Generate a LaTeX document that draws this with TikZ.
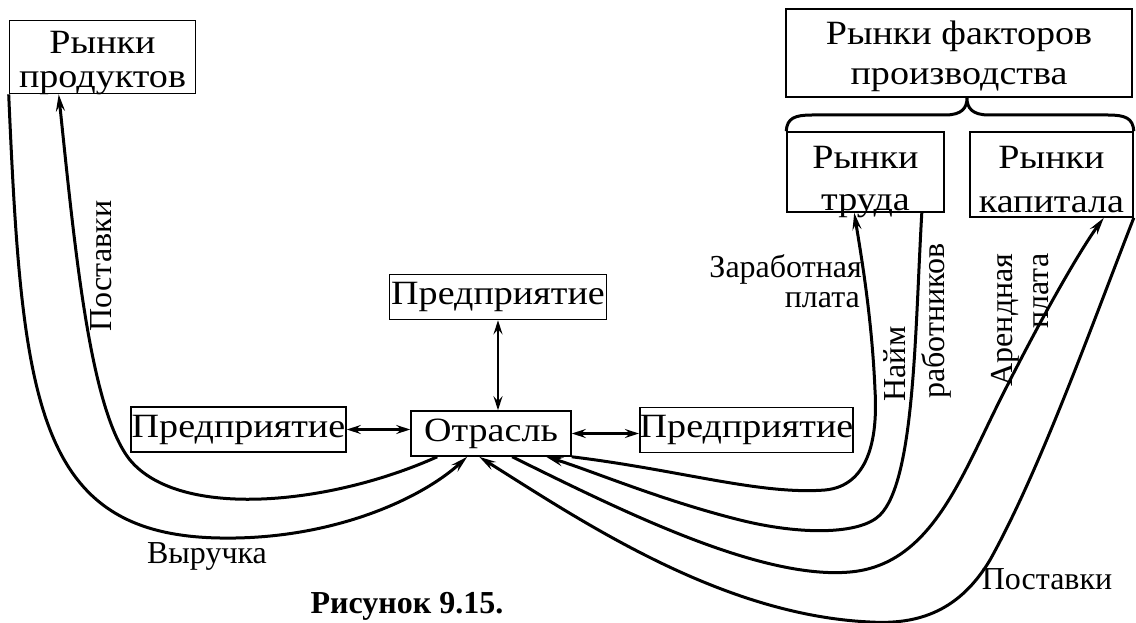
\documentclass[tikz,border=0pt]{standalone}
\usepackage{fontspec}
\setmainfont{Liberation Serif}
\newfontfamily\boxfont[FakeStretch=1.12]{Liberation Serif}
\usetikzlibrary{arrows.meta}
\begin{document}
\begin{tikzpicture}[x=1pt,y=-1pt,
 box/.style={draw,line width=1.6pt,inner sep=0pt,align=center,font=\boxfont\fontsize{34}{34}\selectfont},
 btext/.style={inner sep=0pt,anchor=base,font=\boxfont\fontsize{34}{34}\selectfont},
 lbl/.style={inner sep=0pt,font=\fontsize{32}{34}\selectfont},
 flow/.style={line width=3pt},
 tipend/.style={-{Stealth[length=17pt,width=9pt,inset=6pt]}},
 dbl/.style={line width=2.6pt,{Stealth[length=14pt,width=9pt,inset=5pt]}-{Stealth[length=14pt,width=9pt,inset=5pt]}}]
\useasboundingbox (0,0) rectangle (1136,623);

% boxes
\node[box,minimum width=186pt,minimum height=73pt] (rp) at (102.5,57) {};
\node[btext] (rpt1) at (102.5,54) {Рынки};
\node[btext] (rpt2) at (102.5,88) {продуктов};
\node[box,minimum width=346pt,minimum height=88pt] (rf) at (959,53) {};
\node[btext] (rft1) at (959,45) {Рынки факторов};
\node[btext] (rft2) at (959,85) {производства};
\node[box,minimum width=157pt,minimum height=80pt] (rt) at (865.5,172) {};
\node[btext] (rtt1) at (865.5,168) {Рынки};
\node[btext] (rtt2) at (865.5,211) {труда};
\node[box,minimum width=163pt,minimum height=85pt] (rk) at (1051.5,174.5) {};
\node[btext] (rkt1) at (1051.5,168) {Рынки};
\node[btext] (rkt2) at (1051.5,212) {капитала};
\node[box,minimum width=217pt,minimum height=45pt] (pt) at (498,297) {Предприятие};
\node[box,minimum width=215pt,minimum height=45pt] (pl) at (238.5,429.5) {Предприятие};
\node[box,minimum width=160pt,minimum height=45pt] (ot) at (491,433.5) {Отрасль};
\node[box,minimum width=213pt,minimum height=45pt] (pr) at (746.5,430) {Предприятие};

% brace
\coordinate (btip) at ([xshift=8pt]rf.south);
\draw[line width=3pt] (rt.north west) .. controls (787,118) and (795,115) .. (812,115) -- (945,115)
  .. controls (962,115) and (967,108) .. (btip) .. controls (967,108) and (972,115) .. (989,115)
  -- (1108,115) .. controls (1125,115) and (1133,118) .. (rk.north east);

% double arrows
\draw[dbl] (pl.east) -- (pl.east -| ot.west);
\draw[dbl] (ot.east) -- (ot.east -| pr.west);
\draw[dbl] (pt.south) -- (pt.south |- ot.north);

% anchor points
\coordinate (oA) at ([xshift=27pt]ot.south west);
\coordinate (oB) at ([xshift=57pt]ot.south west);
\coordinate (oC) at ([xshift=69pt]ot.south west);
\coordinate (oD) at ([xshift=102pt]ot.south west);
\coordinate (oE) at ([xshift=136pt]ot.south west);
\coordinate (rpA) at ([xshift=50pt]rp.south west);
\coordinate (rtA) at ([xshift=68pt]rt.south west);
\coordinate (rtB) at ([xshift=-23pt]rt.south east);
\coordinate (rkA) at ([xshift=-30pt]rk.south east);

% left flows
\draw[flow,tipend] (rp.south west) .. controls (22,400) and (35,535) .. (220,538)
  .. controls (330,540) and (420,500) .. (oB);
\draw[flow,tipend] (oA) .. controls (330,505) and (180,520) .. (130,460)
  .. controls (90,410) and (75,250) .. (rpA);

% right flows
\draw[flow,tipend] (ot.south east) .. controls (680,470) and (760,495) .. (825,490)
  .. controls (868,486) and (878,440) .. (875,390) .. controls (872,320) and (862,260) .. (rtA);
\draw[flow,tipend] (rtB) .. controls (915,330) and (915,480) .. (880,515)
  .. controls (860,535) and (800,535) .. (740,520) .. controls (660,500) and (590,470) .. (oE);
\draw[flow,tipend] (oD) .. controls (620,510) and (760,580) .. (850,572)
  .. controls (930,565) and (960,480) .. (1000,400) .. controls (1040,320) and (1080,250) .. (rkA);
\draw[flow,tipend] (rk.south east) .. controls (1090,330) and (1040,470) .. (990,560)
  .. controls (960,610) and (920,625) .. (870,622) .. controls (720,615) and (580,520) .. (oC);

% labels
\node[lbl,rotate=90] (lpost) at (101,266) {Поставки};
\node[lbl] (lvyr) at (207,556) {Выручка};
\node[lbl,anchor=east] (lzar) at (862,269) {Заработная};
\node[lbl,anchor=east] (lpl1) at (860,300) {плата};
\node[lbl,rotate=90] (lnaim) at (895,364) {Найм};
\node[lbl,rotate=90] (lrab) at (936,321) {работников};
\node[lbl,rotate=90] (lar) at (1005,320) {Арендная};
\node[lbl,rotate=90] (lpl2) at (1041,291) {плата};
\node[lbl] (lpost2) at (1047,579) {Поставки};
\node[inner sep=0pt,font=\bfseries\fontsize{32}{34}\selectfont] (cap) at (407,606) {Рисунок 9.15.};
\end{tikzpicture}
\end{document}
